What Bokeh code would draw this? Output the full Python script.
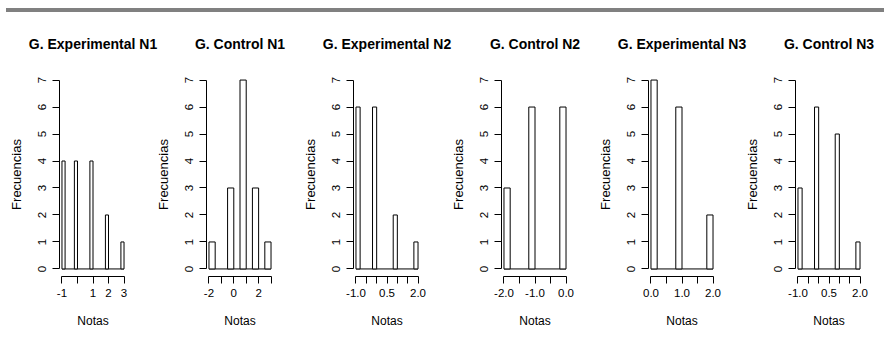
from bokeh.plotting import figure
from bokeh.layouts import row, column
from bokeh.models import Range1d, FixedTicker, Div
from bokeh.core.properties import value
from bokeh.embed import file_html
from bokeh.resources import INLINE

# ---------------- data ----------------
titles = ["G. Experimental N1", "G. Control N1", "G. Experimental N2",
          "G. Control N2", "G. Experimental N3", "G. Control N3"]
x_lo = [-1, -2, -1, -2, 0, -1]
x_hi = [3, 3, 2, 0, 2, 2]
bin_width = [0.2, 0.5, 0.2, 0.2, 0.2, 0.2]
bin_left = [
    [-1.0, -0.2, 0.8, 1.8, 2.8],
    [-2.0, -0.5, 0.5, 1.5, 2.5],
    [-1.0, -0.2, 0.8, 1.8],
    [-2.0, -1.2, -0.2],
    [0.0, 0.8, 1.8],
    [-1.0, -0.2, 0.8, 1.8],
]
frecuencias = [
    [4, 4, 4, 2, 1],
    [1, 3, 7, 3, 1],
    [6, 6, 2, 1],
    [3, 6, 6],
    [7, 6, 2],
    [3, 6, 5, 1],
]
x_ticks = [
    [-1, 0, 1, 2, 3],
    [-2, -1, 0, 1, 2, 3],
    [-1.0, -0.5, 0.0, 0.5, 1.0, 1.5, 2.0],
    [-2.0, -1.5, -1.0, -0.5, 0.0],
    [0.0, 0.5, 1.0, 1.5, 2.0],
    [-1.0, -0.5, 0.0, 0.5, 1.0, 1.5, 2.0],
]
x_tick_labels = [
    ["-1", "", "1", "2", "3"],
    ["-2", "", "0", "", "2", ""],
    ["-1.0", "", "", "0.5", "", "", "2.0"],
    ["-2.0", "", "-1.0", "", "0.0"],
    ["0.0", "", "1.0", "", "2.0"],
    ["-1.0", "", "", "0.5", "", "", "2.0"],
]
y_ticks = [0, 1, 2, 3, 4, 5, 6, 7]
y_lo, y_hi = 0, 7
x_label = "Notas"
y_label = "Frecuencias"

# ---------------- layout / style ----------------
FONT = "Liberation Sans"
fig_widths = [152, 147, 148, 147, 147, 143]
left_borders = [59, 54, 54, 54, 54, 54]
FRAME_W = 67
TOP = 12
FRAME_H = 204
PANEL_H = 289
HEADER_H = 48
TOTAL_W = sum(fig_widths)

bar = Div(text="", width=TOTAL_W - 6, height=4, margin=(8, 0, 0, 6),
          styles={"background-color": "#808080"})

header = figure(width=TOTAL_W, height=HEADER_H, output_backend="svg",
                toolbar_location=None, min_border=0,
                x_range=Range1d(0, TOTAL_W), y_range=Range1d(0, HEADER_H),
                x_axis_type=None, y_axis_type=None)
header.outline_line_color = None
header.grid.visible = False
centers = []
acc = 0
for w, lb in zip(fig_widths, left_borders):
    centers.append(acc + lb + FRAME_W / 2)
    acc += w
header.text(x=centers, y=[HEADER_H - 31] * len(titles), text=titles,
            text_align="center", text_baseline="middle",
            text_font=value(FONT), text_font_style="bold",
            text_font_size="14px", text_color="#000000")

panels = []
for i in range(6):
    lo, hi = x_lo[i], x_hi[i]
    pad = 0.04 * (hi - lo)
    ypad = 0.04 * (y_hi - y_lo)
    w = fig_widths[i]
    lb = left_borders[i]
    p = figure(width=w, height=PANEL_H, output_backend="svg", toolbar_location=None,
               min_border_left=lb, min_border_right=w - lb - FRAME_W,
               min_border_top=TOP, min_border_bottom=PANEL_H - TOP - FRAME_H,
               x_range=Range1d(lo - pad, hi + pad),
               y_range=Range1d(y_lo - ypad, y_hi + ypad))
    p.outline_line_color = None
    p.grid.visible = False
    p.background_fill_color = "white"

    rights = [l + bin_width[i] for l in bin_left[i]]
    p.segment(x0=[lo], y0=[0], x1=[hi], y1=[0], line_color="black", line_width=1)
    p.quad(left=bin_left[i], right=rights, bottom=0, top=frecuencias[i],
           fill_color="white", line_color="black", line_width=1)

    xa = p.xaxis[0]
    xa.ticker = FixedTicker(ticks=x_ticks[i], minor_ticks=[])
    xa.major_label_overrides = {t: l for t, l in zip(x_ticks[i], x_tick_labels[i])}
    xa.bounds = (lo, hi)
    xa.axis_label = x_label
    xa.major_label_standoff = 5
    xa.axis_label_standoff = 14

    ya = p.yaxis[0]
    ya.ticker = FixedTicker(ticks=y_ticks, minor_ticks=[])
    ya.bounds = (y_lo, y_hi)
    ya.axis_label = y_label
    ya.major_label_orientation = "vertical"
    ya.major_label_standoff = 6
    ya.axis_label_standoff = 12

    for ax in (xa, ya):
        ax.axis_line_color = "black"
        ax.axis_line_width = 1
        ax.major_tick_line_color = "black"
        ax.major_tick_out = 7
        ax.major_tick_in = 0
        ax.minor_tick_line_color = None
        ax.major_label_text_font = FONT
        ax.major_label_text_font_size = "11.5px"
        ax.major_label_text_color = "#000000"
        ax.axis_label_text_font = FONT
        ax.axis_label_text_font_style = "normal"
        ax.axis_label_text_color = "#000000"
    xa.axis_label_text_font_size = "12px"
    ya.axis_label_text_font_size = "13px"
    panels.append(p)

layout = column(bar, header, row(*panels, spacing=0), spacing=0)
open("out.html", "w").write(file_html(layout, INLINE))
